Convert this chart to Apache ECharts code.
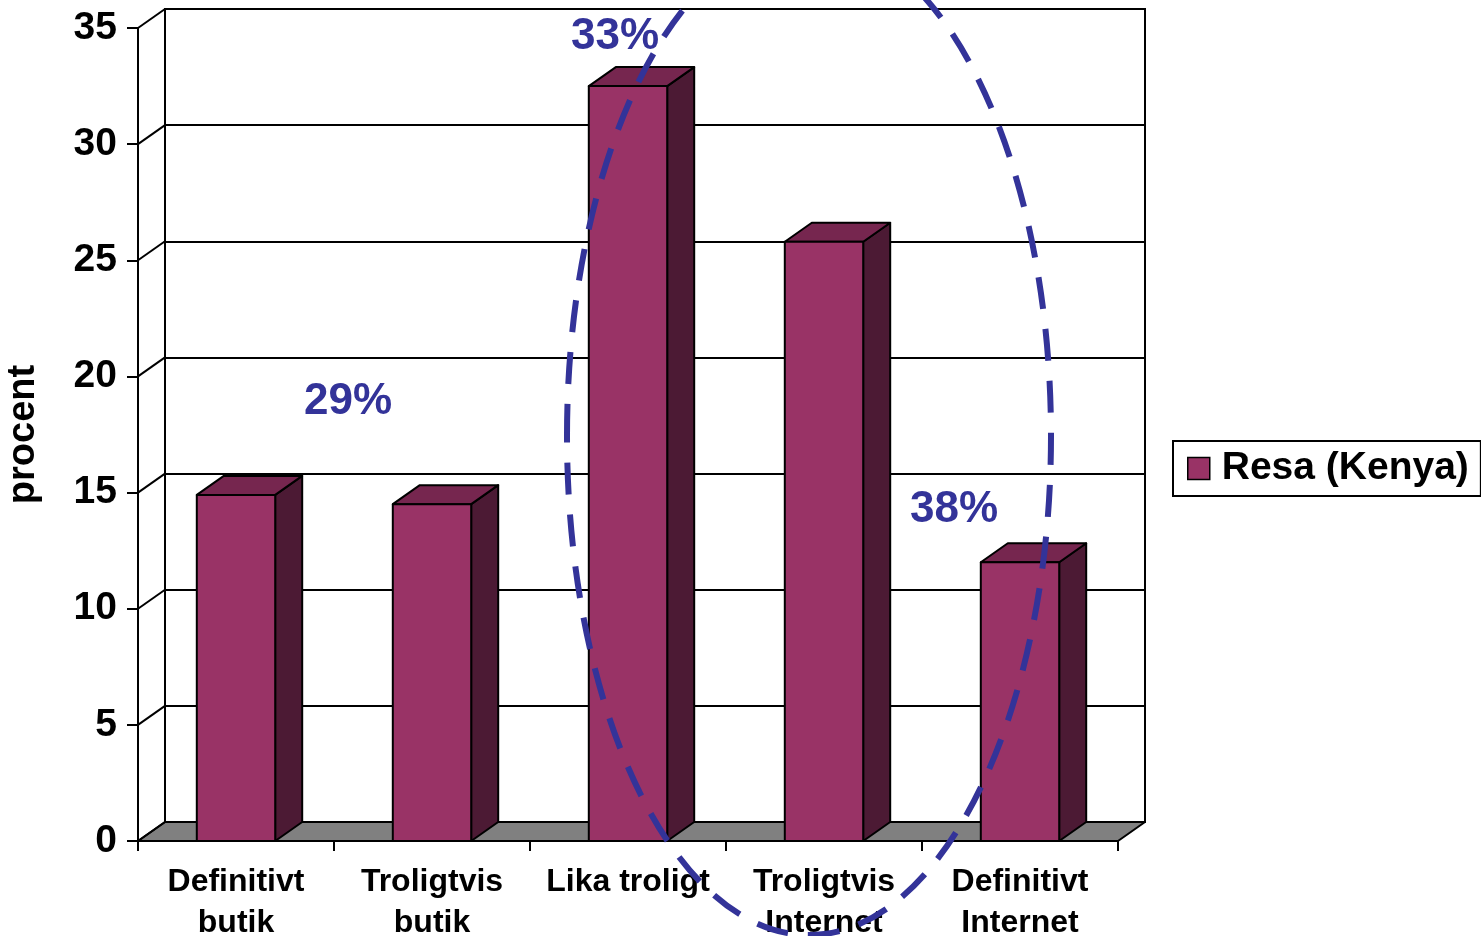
<!DOCTYPE html>
<html>
<head>
<meta charset="utf-8">
<script src="https://cdn.jsdelivr.net/npm/echarts@6/dist/echarts.min.js"></script>
<style>html,body{margin:0;padding:0;background:#fff}#main{width:1481px;height:936px}</style>
</head>
<body>
<div id="main"></div>
<script>
var categories = ['Definitivt\nbutik', 'Troligtvis\nbutik', 'Lika troligt', 'Troligtvis\nInternet', 'Definitivt\nInternet'];
var values = [14.9, 14.5, 32.5, 25.8, 12.0];
var yTicks = [0, 5, 10, 15, 20, 25, 30, 35];
var seriesName = 'Resa (Kenya)';
var notes = ['29%', '33%', '38%'];

// depth of the fake 3d box
var DX = 27, DY = -19;
var FONT = '"Liberation Sans", Arial, sans-serif';
var edge = {stroke: '#000', lineWidth: 2, lineJoin: 'round'};

var chart = echarts.init(document.getElementById('main'));

function renderBar(params, api) {
  var p = api.coord([api.value(0), api.value(1)]);
  var base = api.coord([api.value(0), 0]);
  var w = api.size([1, 0])[0] * 0.4;
  var x = p[0] - w / 2, yt = p[1], yb = base[1];
  return {type: 'group', children: [
    {type: 'polygon', shape: {points: [[x + w, yt], [x + w + DX, yt + DY], [x + w + DX, yb + DY], [x + w, yb]]},
      style: Object.assign({fill: '#4c1a34'}, edge)},
    {type: 'polygon', shape: {points: [[x, yt], [x + w, yt], [x + w + DX, yt + DY], [x + DX, yt + DY]]},
      style: Object.assign({fill: '#76264f'}, edge)},
    {type: 'rect', shape: {x: x, y: yt, width: w, height: yb - yt},
      style: Object.assign({fill: '#993366'}, edge)}
  ]};
}

function renderFloor(params, api) {
  var cs = params.coordSys;
  var yb = cs.y + cs.height;
  return {type: 'polygon', shape: {points: [[cs.x, yb], [cs.x + cs.width, yb], [cs.x + cs.width + DX, yb + DY], [cs.x + DX, yb + DY]]},
    style: Object.assign({fill: '#808080'}, edge)};
}

function renderLink(params, api) {
  var cs = params.coordSys;
  var y = api.coord([0, api.value(1)])[1];
  return {type: 'line', shape: {x1: cs.x, y1: y, x2: cs.x + DX, y2: y + DY}, style: edge};
}

var option = {
  backgroundColor: '#fff',
  animation: false,
  textStyle: {fontFamily: FONT},
  grid: [
    {left: 138, right: 363, top: 28, bottom: 95, containLabel: false, outerBoundsMode: 'none'},
    {left: 165, right: 336, top: 9, bottom: 114, containLabel: false, outerBoundsMode: 'none',
      show: true, backgroundColor: '#fff', borderColor: '#000', borderWidth: 2, z: -1}
  ],
  legend: {
    data: [seriesName],
    left: 1173, top: 441,
    icon: 'rect', itemWidth: 22, itemHeight: 22,
    padding: [8, 12, 8, 14],
    borderColor: '#000', borderWidth: 2,
    itemStyle: {borderColor: '#000', borderWidth: 1.5},
    textStyle: {fontSize: 39, fontWeight: 'bold', color: '#000', fontFamily: FONT, padding: [0, 0, 0, 7]}
  },
  xAxis: [
    {type: 'category', gridIndex: 0, data: categories,
      axisLine: {lineStyle: {color: '#000', width: 2}},
      axisTick: {show: true, length: 10, lineStyle: {color: '#000', width: 2}},
      axisLabel: {interval: 0, margin: 21, fontSize: 32, fontWeight: 'bold', color: '#000', lineHeight: 41, fontFamily: FONT}},
    {type: 'category', gridIndex: 1, data: categories, show: false}
  ],
  yAxis: [
    {type: 'value', gridIndex: 0, min: 0, max: 35, interval: 5,
      name: 'procent', nameLocation: 'middle', nameGap: 95, nameRotate: 90,
      nameTextStyle: {fontSize: 38, fontWeight: 'bold', color: '#000', fontFamily: FONT},
      axisLine: {show: true, lineStyle: {color: '#000', width: 2}},
      axisTick: {show: true, length: 11, lineStyle: {color: '#000', width: 2}},
      axisLabel: {margin: 21, fontSize: 39, fontWeight: 'bold', color: '#000', fontFamily: FONT},
      splitLine: {show: false}},
    {type: 'value', gridIndex: 1, min: 0, max: 35, interval: 5,
      axisLine: {show: true, lineStyle: {color: '#000', width: 2}},
      axisTick: {show: false}, axisLabel: {show: false},
      splitLine: {show: true, lineStyle: {color: '#000', width: 2}}}
  ],
  series: [
    {type: 'custom', name: 'floor', xAxisIndex: 0, yAxisIndex: 0, z: 1, silent: true,
      renderItem: renderFloor, data: [[0, 0]]},
    {type: 'custom', name: 'links', xAxisIndex: 0, yAxisIndex: 0, z: 1, silent: true,
      renderItem: renderLink, data: yTicks.map(function (v) { return [0, v]; })},
    {type: 'custom', name: seriesName, xAxisIndex: 0, yAxisIndex: 0, z: 3,
      itemStyle: {color: '#993366'},
      renderItem: renderBar, data: values.map(function (v, i) { return [i, v]; })}
  ],
  graphic: [
    {type: 'text', x: 348, y: 402, z: 50, style: {text: notes[0], fill: '#333399', font: 'bold 44px ' + FONT, align: 'center', verticalAlign: 'middle'}},
    {type: 'text', x: 615, y: 37, z: 50, style: {text: notes[1], fill: '#333399', font: 'bold 44px ' + FONT, align: 'center', verticalAlign: 'middle'}},
    {type: 'text', x: 954, y: 510, z: 50, style: {text: notes[2], fill: '#333399', font: 'bold 44px ' + FONT, align: 'center', verticalAlign: 'middle'}},
    {type: 'ellipse', z: 60, shape: {cx: 809, cy: 436, rx: 242, ry: 499},
      style: {fill: null, stroke: '#333399', lineWidth: 6, lineDash: [32, 20]}}
  ]
};

chart.setOption(option);
</script>
</body>
</html>
